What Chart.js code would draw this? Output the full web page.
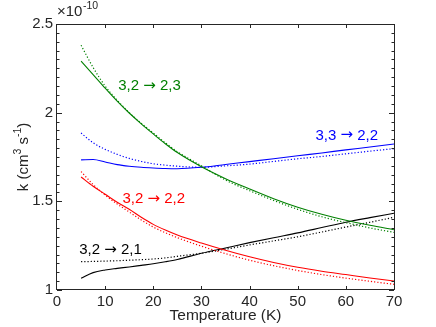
<!DOCTYPE html>
<html>
<head>
<meta charset="utf-8">
<script src="https://cdn.jsdelivr.net/npm/chart.js@4.4.0/dist/chart.umd.min.js"></script>
<style>
    html, body { margin: 0; padding: 0; background: #fff; }
    #wrap { width: 436px; height: 327px; }
</style>
</head>
<body>
<div id="wrap"><canvas id="myChart"></canvas></div>
<script>
// temperatures (K), rates in units of 1e-10 cm^3 s^-1
const temps = [5, 7.5, 10, 12.5, 15, 17.5, 20, 22.5, 25, 30, 35, 40, 45, 50, 55, 60, 65, 70];

const k3223 = [2.29, 2.215, 2.138, 2.065, 1.998, 1.937, 1.88, 1.825, 1.775, 1.695, 1.628, 1.57, 1.515, 1.467, 1.427, 1.393, 1.365, 1.34];
const k3223dot = [2.38, 2.255, 2.15, 2.07, 2.0, 1.94, 1.885, 1.83, 1.78, 1.70, 1.62, 1.56, 1.505, 1.455, 1.413, 1.38, 1.35, 1.325];
const k3322 = [1.734, 1.736, 1.722, 1.707, 1.698, 1.692, 1.688, 1.685, 1.684, 1.692, 1.708, 1.724, 1.74, 1.757, 1.773, 1.79, 1.806, 1.823];
const k3322dot = [1.885, 1.83, 1.793, 1.765, 1.742, 1.725, 1.712, 1.704, 1.698, 1.692, 1.70, 1.71, 1.725, 1.74, 1.753, 1.768, 1.783, 1.797];
const k3222 = [1.637, 1.585, 1.54, 1.495, 1.455, 1.41, 1.37, 1.338, 1.31, 1.265, 1.224, 1.187, 1.155, 1.128, 1.106, 1.087, 1.068, 1.051];
const k3222dot = [1.668, 1.595, 1.535, 1.485, 1.44, 1.395, 1.355, 1.323, 1.295, 1.247, 1.205, 1.168, 1.137, 1.11, 1.087, 1.067, 1.049, 1.032];
const k3221 = [1.066, 1.098, 1.113, 1.122, 1.13, 1.139, 1.148, 1.159, 1.172, 1.207, 1.237, 1.267, 1.295, 1.322, 1.352, 1.382, 1.408, 1.433];
const k3221dot = [1.16, 1.161, 1.163, 1.165, 1.168, 1.171, 1.175, 1.181, 1.19, 1.207, 1.23, 1.254, 1.277, 1.30, 1.327, 1.355, 1.382, 1.41];

const xTicks = [0, 10, 20, 30, 40, 50, 60, 70];
const yTickLabels = [1, 1.5, 2, 2.5];

// label text (before / after the arrow), position in data units, colour
const curveLabels = [
    { from: '3,2', to: '2,3', x: 19.2, y: 2.15, color: '#008000' },
    { from: '3,3', to: '2,2', x: 60.2, y: 1.872, color: '#0000ff' },
    { from: '3,2', to: '2,2', x: 20.1, y: 1.512, color: '#ff0000' },
    { from: '3,2', to: '2,1', x: 11.1, y: 1.226, color: '#000000' }
];

const axisColor = '#262626';
const fontFamily = '"Liberation Sans", Arial, Helvetica, sans-serif';
const arrowFont = '15px "DejaVu Sans", sans-serif';

function pts(vals) {
    return temps.map((t, i) => ({ x: t, y: vals[i] }));
}

function line(vals, color, dotted) {
    return {
        data: pts(vals),
        borderColor: color,
        borderWidth: dotted ? 1.2 : 1.1,
        borderDash: dotted ? [1.2, 2] : [],
        pointRadius: 0,
        fill: false,
        cubicInterpolationMode: 'monotone'
    };
}

const decorations = {
    id: 'decorations',
    afterDatasetsDraw(chart) {
        const ctx = chart.ctx;
        const a = chart.chartArea;
        const x = chart.scales.x;
        const y = chart.scales.y;
        ctx.save();

        // box
        ctx.strokeStyle = axisColor;
        ctx.lineWidth = 1;
        ctx.strokeRect(Math.round(a.left) - 0.5, Math.round(a.top) + 0.5, Math.round(a.right - a.left) + 1, Math.round(a.bottom - a.top) - 1);

        // inward ticks
        ctx.beginPath();
        xTicks.forEach(v => {
            if (v === 0 || v === 70) return;
            const px = Math.round(x.getPixelForValue(v)) + 0.5;
            ctx.moveTo(px, a.bottom); ctx.lineTo(px, a.bottom - 4);
            ctx.moveTo(px, a.top); ctx.lineTo(px, a.top + 4);
        });
        y.ticks.forEach(t => {
            const py = Math.round(y.getPixelForValue(t.value)) + 0.5;
            const major = Math.abs(t.value * 2 - Math.round(t.value * 2)) < 1e-6;
            const len = major ? 5 : 2.5;
            ctx.moveTo(a.left, py); ctx.lineTo(a.left + len, py);
            ctx.moveTo(a.right, py); ctx.lineTo(a.right - len, py);
        });
        ctx.stroke();

        // curve labels
        ctx.textAlign = 'left';
        ctx.textBaseline = 'middle';
        curveLabels.forEach(l => {
            const pieces = [[l.from + ' ', '15px ' + fontFamily], ['\u2192', arrowFont], [' ' + l.to, '15px ' + fontFamily]];
            let w = 0;
            pieces.forEach(p => { ctx.font = p[1]; w += ctx.measureText(p[0]).width; });
            let cx = x.getPixelForValue(l.x) - w / 2;
            const cy = y.getPixelForValue(l.y);
            ctx.fillStyle = l.color;
            pieces.forEach(p => {
                ctx.font = p[1];
                ctx.fillText(p[0], cx, cy);
                cx += ctx.measureText(p[0]).width;
            });
        });

        // exponent
        ctx.fillStyle = axisColor;
        ctx.textAlign = 'left';
        ctx.textBaseline = 'alphabetic';
        ctx.font = '15px ' + fontFamily;
        ctx.fillText('\u00d710', a.left, 16);
        const w = ctx.measureText('\u00d710').width;
        ctx.font = '10.5px ' + fontFamily;
        ctx.fillText('-10', a.left + w + 0.5, 9);

        // y title with superscripts
        ctx.translate(28, (a.top + a.bottom) / 2);
        ctx.rotate(-Math.PI / 2);
        const parts = [['k (cm', false], ['3', true], [' s', false], ['-1', true], [')', false]];
        let total = 0;
        parts.forEach(p => {
            ctx.font = (p[1] ? '10.5px ' : '15px ') + fontFamily;
            total += ctx.measureText(p[0]).width;
        });
        let cx = -total / 2;
        parts.forEach(p => {
            ctx.font = (p[1] ? '10.5px ' : '15px ') + fontFamily;
            ctx.fillText(p[0], cx, p[1] ? -7 : 0);
            cx += ctx.measureText(p[0]).width;
        });
        ctx.restore();
    }
};

let ctx = document.getElementById('myChart').getContext('2d');
let myChart = new Chart(ctx, {
    type: 'line',
    data: {
        datasets: [
            line(k3223, '#008000', false),
            line(k3223dot, '#008000', true),
            line(k3322, '#0000ff', false),
            line(k3322dot, '#0000ff', true),
            line(k3222, '#ff0000', false),
            line(k3222dot, '#ff0000', true),
            line(k3221, '#000000', false),
            line(k3221dot, '#000000', true)
        ]
    },
    options: {
        responsive: true,
        maintainAspectRatio: false,
        animation: false,
        layout: { padding: { left: 0, right: 42, top: 24, bottom: 0 } },
        plugins: {
            legend: { display: false },
            tooltip: { enabled: false }
        },
        scales: {
            x: {
                type: 'linear',
                min: 0,
                max: 70,
                afterBuildTicks: s => { s.ticks = xTicks.map(v => ({ value: v })); },
                ticks: {
                    color: axisColor,
                    font: { family: fontFamily, size: 15 },
                    padding: 3,
                    maxRotation: 0
                },
                grid: { display: false, drawTicks: false },
                border: { display: false },
                title: {
                    display: true,
                    text: 'Temperature (K)',
                    color: axisColor,
                    font: { family: fontFamily, size: 15.5 },
                    padding: { top: 0, bottom: 2 }
                },
                afterFit: s => { s.height = 37; }
            },
            y: {
                type: 'linear',
                min: 1,
                max: 2.5,
                ticks: {
                    stepSize: 0.05,
                    autoSkip: false,
                    color: axisColor,
                    font: { family: fontFamily, size: 15 },
                    padding: 4,
                    callback: v => {
                        const hit = yTickLabels.find(t => Math.abs(t - v) < 1e-6);
                        return hit === undefined ? '' : String(hit);
                    }
                },
                grid: { display: false, drawTicks: false },
                border: { display: false },
                afterFit: s => { s.width = 57; }
            }
        }
    },
    plugins: [decorations]
});
</script>
</body>
</html>
